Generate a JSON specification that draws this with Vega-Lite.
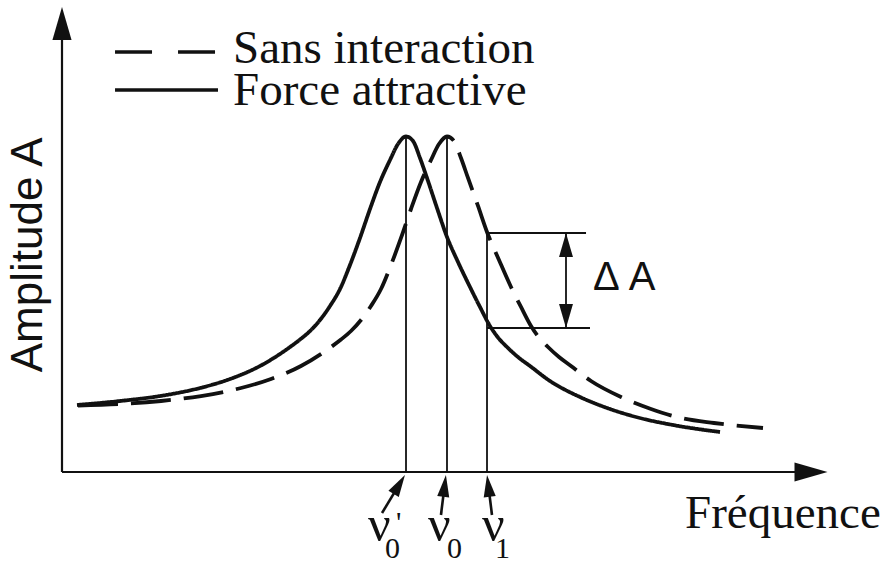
{
  "$schema": "https://vega.github.io/schema/vega-lite/v6.json",
  "width": 887,
  "height": 563,
  "autosize": "none",
  "padding": 0,
  "background": "white",
  "config": {"view": {"stroke": null}},
  "datasets": {
    "curves": [
      {"f": 2.0, "a": 14.19, "serie": "Force attractive"},
      {"f": 7.733, "a": 15.04, "serie": "Force attractive"},
      {"f": 13.067, "a": 16.10, "serie": "Force attractive"},
      {"f": 18.4, "a": 17.80, "serie": "Force attractive"},
      {"f": 22.4, "a": 19.70, "serie": "Force attractive"},
      {"f": 26.4, "a": 22.46, "serie": "Force attractive"},
      {"f": 30.4, "a": 26.48, "serie": "Force attractive"},
      {"f": 31.733, "a": 28.07, "serie": "Force attractive"},
      {"f": 33.067, "a": 29.87, "serie": "Force attractive"},
      {"f": 34.4, "a": 32.20, "serie": "Force attractive"},
      {"f": 35.733, "a": 35.17, "serie": "Force attractive"},
      {"f": 37.067, "a": 38.77, "serie": "Force attractive"},
      {"f": 38.4, "a": 43.86, "serie": "Force attractive"},
      {"f": 39.733, "a": 49.58, "serie": "Force attractive"},
      {"f": 41.067, "a": 55.72, "serie": "Force attractive"},
      {"f": 42.4, "a": 61.44, "serie": "Force attractive"},
      {"f": 43.733, "a": 66.10, "serie": "Force attractive"},
      {"f": 44.8, "a": 69.49, "serie": "Force attractive"},
      {"f": 45.867, "a": 71.08, "serie": "Force attractive"},
      {"f": 46.8, "a": 70.13, "serie": "Force attractive"},
      {"f": 47.733, "a": 66.53, "serie": "Force attractive"},
      {"f": 48.667, "a": 62.29, "serie": "Force attractive"},
      {"f": 50.0, "a": 55.93, "serie": "Force attractive"},
      {"f": 51.333, "a": 49.79, "serie": "Force attractive"},
      {"f": 52.8, "a": 44.49, "serie": "Force attractive"},
      {"f": 54.4, "a": 39.19, "serie": "Force attractive"},
      {"f": 55.733, "a": 34.96, "serie": "Force attractive"},
      {"f": 57.067, "a": 30.93, "serie": "Force attractive"},
      {"f": 58.133, "a": 28.50, "serie": "Force attractive"},
      {"f": 59.333, "a": 26.48, "serie": "Force attractive"},
      {"f": 60.8, "a": 24.36, "serie": "Force attractive"},
      {"f": 62.4, "a": 22.46, "serie": "Force attractive"},
      {"f": 65.067, "a": 19.28, "serie": "Force attractive"},
      {"f": 69.067, "a": 15.89, "serie": "Force attractive"},
      {"f": 73.067, "a": 13.35, "serie": "Force attractive"},
      {"f": 77.067, "a": 11.44, "serie": "Force attractive"},
      {"f": 81.467, "a": 9.96, "serie": "Force attractive"},
      {"f": 87.733, "a": 8.47, "serie": "Force attractive"},
      {"f": 2.133, "a": 14.09, "serie": "Sans interaction"},
      {"f": 13.2, "a": 15.04, "serie": "Sans interaction"},
      {"f": 18.533, "a": 16.10, "serie": "Sans interaction"},
      {"f": 23.867, "a": 17.80, "serie": "Sans interaction"},
      {"f": 27.867, "a": 19.70, "serie": "Sans interaction"},
      {"f": 31.867, "a": 22.46, "serie": "Sans interaction"},
      {"f": 35.867, "a": 26.48, "serie": "Sans interaction"},
      {"f": 37.2, "a": 28.07, "serie": "Sans interaction"},
      {"f": 38.533, "a": 29.87, "serie": "Sans interaction"},
      {"f": 39.867, "a": 32.20, "serie": "Sans interaction"},
      {"f": 41.2, "a": 35.17, "serie": "Sans interaction"},
      {"f": 42.533, "a": 38.77, "serie": "Sans interaction"},
      {"f": 43.867, "a": 43.86, "serie": "Sans interaction"},
      {"f": 45.2, "a": 49.58, "serie": "Sans interaction"},
      {"f": 46.533, "a": 55.72, "serie": "Sans interaction"},
      {"f": 47.867, "a": 61.44, "serie": "Sans interaction"},
      {"f": 49.2, "a": 66.10, "serie": "Sans interaction"},
      {"f": 50.267, "a": 69.49, "serie": "Sans interaction"},
      {"f": 51.333, "a": 71.08, "serie": "Sans interaction"},
      {"f": 52.267, "a": 70.13, "serie": "Sans interaction"},
      {"f": 53.2, "a": 66.53, "serie": "Sans interaction"},
      {"f": 54.133, "a": 62.29, "serie": "Sans interaction"},
      {"f": 55.467, "a": 56.36, "serie": "Sans interaction"},
      {"f": 56.667, "a": 50.85, "serie": "Sans interaction"},
      {"f": 58.267, "a": 44.92, "serie": "Sans interaction"},
      {"f": 59.867, "a": 39.19, "serie": "Sans interaction"},
      {"f": 61.2, "a": 34.96, "serie": "Sans interaction"},
      {"f": 62.533, "a": 30.93, "serie": "Sans interaction"},
      {"f": 63.6, "a": 28.50, "serie": "Sans interaction"},
      {"f": 64.8, "a": 26.48, "serie": "Sans interaction"},
      {"f": 66.267, "a": 24.36, "serie": "Sans interaction"},
      {"f": 67.867, "a": 22.46, "serie": "Sans interaction"},
      {"f": 70.533, "a": 19.28, "serie": "Sans interaction"},
      {"f": 74.533, "a": 15.89, "serie": "Sans interaction"},
      {"f": 78.533, "a": 13.35, "serie": "Sans interaction"},
      {"f": 82.533, "a": 11.44, "serie": "Sans interaction"},
      {"f": 86.933, "a": 10.38, "serie": "Sans interaction"},
      {"f": 93.467, "a": 9.32, "serie": "Sans interaction"}
    ],
    "axes": [
      {"f": 0, "a": 0, "f2": 0, "a2": 95.76},
      {"f": 0, "a": 0, "f2": 99.73, "a2": 0}
    ],
    "thin": [
      {"f": 45.867, "a": 0, "f2": 45.867, "a2": 71.08},
      {"f": 51.333, "a": 0, "f2": 51.333, "a2": 71.08},
      {"f": 56.667, "a": 0, "f2": 56.667, "a2": 50.64},
      {"f": 56.667, "a": 50.64, "f2": 69.87, "a2": 50.64},
      {"f": 56.667, "a": 30.51, "f2": 70.4, "a2": 30.51},
      {"f": 67.2, "a": 50.64, "f2": 67.2, "a2": 30.51}
    ],
    "shafts": [
      {"f": 42.67, "a": -8.69, "f2": 44.97, "a2": -2.63},
      {"f": 50.53, "a": -9.11, "f2": 51.01, "a2": -2.94},
      {"f": 57.33, "a": -9.11, "f2": 56.85, "a2": -2.94}
    ],
    "nuHeads": [
      {"f": 44.97, "a": -2.63, "ang": 31},
      {"f": 51.01, "a": -2.94, "ang": 7},
      {"f": 56.85, "a": -2.94, "ang": -7}
    ],
    "axisHeads": [
      {"f": 0, "a": 95.02, "ang": 0},
      {"f": 99.87, "a": 0, "ang": 90}
    ],
    "dHeads": [
      {"f": 67.2, "a": 48.09, "ang": 0},
      {"f": 67.2, "a": 33.05, "ang": 180}
    ],
    "legendDash": [{"f": 7.07, "a": 88.98, "f2": 20.8, "a2": 88.98}],
    "legendSolid": [{"f": 7.07, "a": 80.93, "f2": 20.8, "a2": 80.93}],
    "serifText": [
      {"f": 22.8, "a": 86.65, "t": "Sans interaction"},
      {"f": 22.8, "a": 77.75, "t": "Force attractive"},
      {"f": 83.07, "a": -11.86, "t": "Fréquence"}
    ],
    "nuText": [
      {"f": 40.8, "a": -14.62, "t": "ν"},
      {"f": 48.8, "a": -14.62, "t": "ν"},
      {"f": 56.0, "a": -14.62, "t": "ν"}
    ],
    "subText": [
      {"f": 43.07, "a": -18.22, "t": "0"},
      {"f": 51.33, "a": -18.22, "t": "0"},
      {"f": 57.73, "a": -18.22, "t": "1"}
    ],
    "primeText": [{"f": 44.53, "a": -12.71, "t": "'"}],
    "yTitle": [{"f": -2.67, "a": 46.0, "t": "Amplitude A"}],
    "dText": [{"f": 70.8, "a": 38.56, "t": "Δ A"}]
  },
  "encoding": {
    "x": {"field": "f", "type": "quantitative", "scale": {"domain": [-8.2667, 110], "nice": false, "zero": false}, "axis": null},
    "y": {"field": "a", "type": "quantitative", "scale": {"domain": [-19.28, 100], "nice": false, "zero": false}, "axis": null}
  },
  "layer": [
    {
      "data": {"name": "curves"},
      "mark": {"type": "line", "color": "#111", "strokeWidth": 3.8, "strokeCap": "butt", "interpolate": "monotone"},
      "encoding": {
        "detail": {"field": "serie"},
        "strokeDash": {"field": "serie", "type": "nominal", "scale": {"domain": ["Sans interaction", "Force attractive"], "range": [[40, 13], [1, 0]]}, "legend": null}
      }
    },
    {
      "data": {"name": "axes"},
      "mark": {"type": "rule", "color": "#111", "strokeWidth": 2.2},
      "encoding": {"x2": {"field": "f2"}, "y2": {"field": "a2"}}
    },
    {
      "data": {"name": "thin"},
      "mark": {"type": "rule", "color": "#111", "strokeWidth": 1.8},
      "encoding": {"x2": {"field": "f2"}, "y2": {"field": "a2"}}
    },
    {
      "data": {"name": "shafts"},
      "mark": {"type": "rule", "color": "#111", "strokeWidth": 2.6},
      "encoding": {"x2": {"field": "f2"}, "y2": {"field": "a2"}}
    },
    {
      "data": {"name": "legendDash"},
      "mark": {"type": "rule", "color": "#111", "strokeWidth": 3.5, "strokeDash": [37, 26]},
      "encoding": {"x2": {"field": "f2"}, "y2": {"field": "a2"}}
    },
    {
      "data": {"name": "legendSolid"},
      "mark": {"type": "rule", "color": "#111", "strokeWidth": 3.5},
      "encoding": {"x2": {"field": "f2"}, "y2": {"field": "a2"}}
    },
    {
      "data": {"name": "nuHeads"},
      "mark": {"type": "point", "shape": "M0,-1L0.55,1L-0.55,1Z", "size": 484, "filled": true, "color": "#111", "opacity": 1},
      "encoding": {"angle": {"field": "ang", "type": "quantitative", "scale": null}}
    },
    {
      "data": {"name": "axisHeads"},
      "mark": {"type": "point", "shape": "M0,-1L0.58,1L-0.58,1Z", "size": 1089, "filled": true, "color": "#111", "opacity": 1},
      "encoding": {"angle": {"field": "ang", "type": "quantitative", "scale": null}}
    },
    {
      "data": {"name": "dHeads"},
      "mark": {"type": "point", "shape": "M0,-1L0.58,1L-0.58,1Z", "size": 576, "filled": true, "color": "#111", "opacity": 1},
      "encoding": {"angle": {"field": "ang", "type": "quantitative", "scale": null}}
    },
    {
      "data": {"name": "serifText"},
      "mark": {"type": "text", "font": "Liberation Serif", "fontSize": 47, "align": "left", "baseline": "alphabetic", "color": "#111"},
      "encoding": {"text": {"field": "t"}}
    },
    {
      "data": {"name": "nuText"},
      "mark": {"type": "text", "font": "Liberation Serif", "fontSize": 50, "align": "left", "baseline": "alphabetic", "color": "#111"},
      "encoding": {"text": {"field": "t"}}
    },
    {
      "data": {"name": "subText"},
      "mark": {"type": "text", "font": "Liberation Serif", "fontSize": 30, "align": "left", "baseline": "alphabetic", "color": "#111"},
      "encoding": {"text": {"field": "t"}}
    },
    {
      "data": {"name": "primeText"},
      "mark": {"type": "text", "font": "Liberation Serif", "fontSize": 30, "align": "left", "baseline": "alphabetic", "color": "#111"},
      "encoding": {"text": {"field": "t"}}
    },
    {
      "data": {"name": "yTitle"},
      "mark": {"type": "text", "font": "Liberation Sans", "fontSize": 44, "align": "center", "baseline": "alphabetic", "angle": 270, "color": "#111"},
      "encoding": {"text": {"field": "t"}}
    },
    {
      "data": {"name": "dText"},
      "mark": {"type": "text", "font": "Liberation Sans", "fontSize": 40, "align": "left", "baseline": "alphabetic", "color": "#111"},
      "encoding": {"text": {"field": "t"}}
    }
  ]
}
